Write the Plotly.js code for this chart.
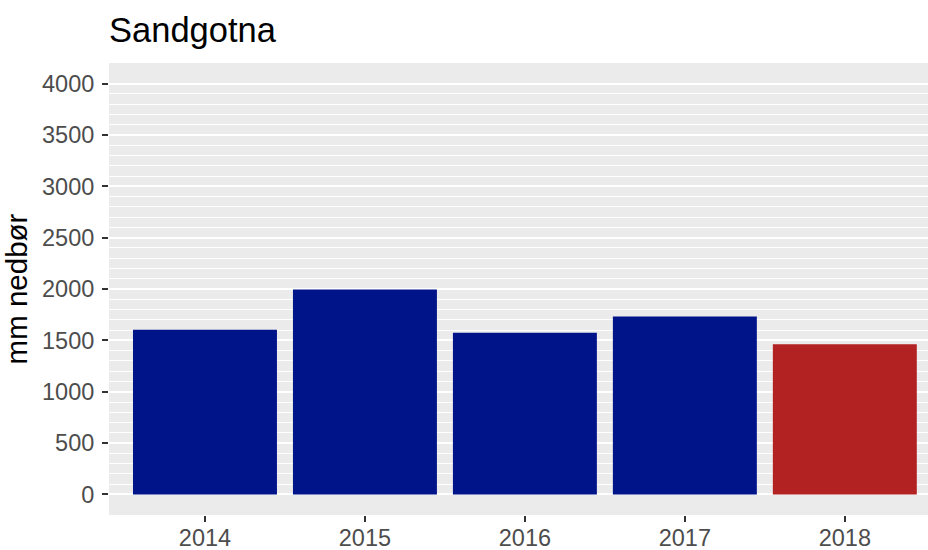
<!DOCTYPE html>
<html>
<head>
<meta charset="utf-8">
<script src="https://cdn.plot.ly/plotly-3.0.1.min.js"></script>
<style>html,body{margin:0;padding:0;background:#fff;}#chart{width:928px;height:550px;}</style>
</head>
<body>
<div id="chart"></div>
<script>
const years = ['2014', '2015', '2016', '2017', '2018'];
const precipitation = [1604, 1995, 1575, 1733, 1461];
const barColors = ['#00148A', '#00148A', '#00148A', '#00148A', '#B22222'];
const yTicks = [0, 500, 1000, 1500, 2000, 2500, 3000, 3500, 4000];
const yMinorTicks = [];
for (let v = 100; v < 4000; v += 100) { if (v % 500 !== 0) yMinorTicks.push(v); }

const trace = {
  type: 'bar',
  x: years,
  y: precipitation,
  marker: {color: barColors, line: {width: 0}},
  hoverinfo: 'x+y'
};

const layout = {
  width: 928, height: 550,
  margin: {l: 109, r: 0, t: 63, b: 35},
  paper_bgcolor: '#FFFFFF',
  plot_bgcolor: '#EBEBEB',
  font: {family: '"Liberation Sans", Arial, sans-serif', color: '#4D4D4D'},
  bargap: 0.1,
  showlegend: false,
  title: {
    text: 'Sandgotna',
    font: {size: 34.5, color: '#000000'},
    xref: 'container', x: 109/928, xanchor: 'left',
    yref: 'container', y: 1 - 30/550, yanchor: 'middle'
  },
  xaxis: {
    type: 'category',
    range: [-0.6, 4.52],
    showgrid: false,
    zeroline: false,
    showline: false,
    ticks: 'outside', ticklen: 6, tickwidth: 2, tickcolor: '#333333',
    ticklabelstandoff: -4,
    tickfont: {size: 23.5, color: '#4D4D4D'}
  },
  yaxis: {
    range: [-200, 4200],
    tickmode: 'array', tickvals: yTicks,
    showgrid: true, gridcolor: '#FFFFFF', gridwidth: 2,
    minor: {tickmode: 'array', tickvals: yMinorTicks, showgrid: true, gridcolor: '#FFFFFF', gridwidth: 1, ticks: ''},
    zeroline: false,
    showline: false,
    ticks: 'outside', ticklen: 6, tickwidth: 2, tickcolor: '#333333',
    ticklabelstandoff: 3,
    tickfont: {size: 23.5, color: '#4D4D4D'},
    title: {text: 'mm nedbør', font: {size: 29.5, color: '#000000'}, standoff: 12}
  }
};

Plotly.newPlot('chart', [trace], layout, {displayModeBar: false, staticPlot: true});
</script>
</body>
</html>
